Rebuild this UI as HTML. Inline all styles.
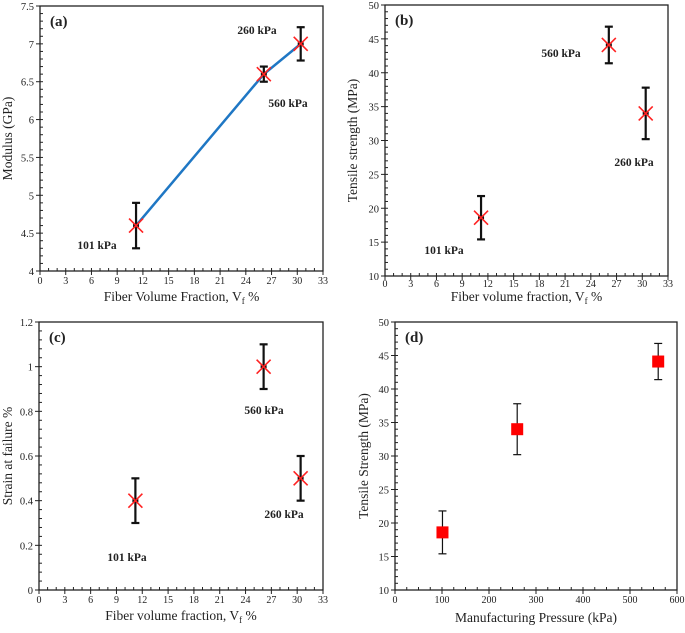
<!DOCTYPE html>
<html><head><meta charset="utf-8"><style>
html,body{margin:0;padding:0;background:#fff}
svg text{font-family:"Liberation Serif","DejaVu Serif",serif;fill:#222}
</style></head><body>
<svg id="fig" width="685" height="628" viewBox="0 0 685 628" xmlns="http://www.w3.org/2000/svg" font-family="Liberation Serif, serif"></svg>
<script>
// Panel (a) data
const aX = [11.2, 26.1, 30.4];
const aY = [4.6, 6.6, 7.0];
const aErr = [0.3, 0.1, 0.22];
const aLabels = ["101 kPa", "560 kPa", "260 kPa"];
// Panel (b) data
const bX = [11.2, 26.1, 30.4];
const bY = [18.6, 44.1, 34.0];
const bErr = [3.2, 2.7, 3.8];
// Panel (c) data
const cX = [11.2, 26.1, 30.4];
const cY = [0.4, 1.0, 0.5];
const cErr = [0.1, 0.1, 0.1];
// Panel (d) data
const dX = [101, 260, 560];
const dY = [18.6, 34.0, 44.1];
const dErr = [3.2, 3.8, 2.7];
// Tick labels
const vfTicks = [0,3,6,9,12,15,18,21,24,27,30,33];
const aYTicks = [4,4.5,5,5.5,6,6.5,7,7.5];
const bYTicks = [10,15,20,25,30,35,40,45,50];
const cYTicks = [0,0.2,0.4,0.6,0.8,1,1.2];
const dXTicks = [0,100,200,300,400,500,600];

const NS = "http://www.w3.org/2000/svg";
const svg = document.getElementById('fig');
function mk(tag, attrs, parent, name, txt){
  const e = document.createElementNS(NS, tag);
  for (const k in attrs) e.setAttribute(k, attrs[k]);
  
  
  if (txt !== undefined) e.textContent = txt;
  (parent || svg).appendChild(e);
  return e;
}
function panel(o){
  const g = mk('g', {}, svg, o.name);
  const sx = v => o.L + (v - o.xt[0]) / (o.xt[o.xt.length-1] - o.xt[0]) * (o.R - o.L);
  const sy = v => o.B - (v - o.yt[0]) / (o.yt[o.yt.length-1] - o.yt[0]) * (o.B - o.T);
  mk('rect', {x:o.L, y:o.T, width:o.R-o.L, height:o.B-o.T, fill:'none', stroke:'#222', 'stroke-width':1.3}, g, 'plot-frame');
  const xmin = o.xt[0], xmax = o.xt[o.xt.length-1];
  for (let i = 0; i <= o.xMinorN; i++){
    const v = xmin + (xmax - xmin) * i / o.xMinorN;
    mk('line', {x1:sx(v), x2:sx(v), y1:o.B, y2:o.B-3, stroke:'#222', 'stroke-width':1}, g, 'x-minor-tick');
  }
  const ymin = o.yt[0], ymax = o.yt[o.yt.length-1];
  for (let i = 0; i <= o.yMinorN; i++){
    const v = ymin + (ymax - ymin) * i / o.yMinorN;
    mk('line', {x1:o.L, x2:o.L+3, y1:sy(v), y2:sy(v), stroke:'#222', 'stroke-width':1}, g, 'y-minor-tick');
  }
  o.xt.forEach(v => {
    mk('line', {x1:sx(v), x2:sx(v), y1:o.B, y2:o.B+4, stroke:'#222'}, g, 'x-tick');
    mk('text', {x:sx(v), y:o.B+(o.tickDy||13), 'text-anchor':'middle', 'font-size':10, 'font-family':'Liberation Serif, serif'}, g, 'x-tick-label', String(v));
  });
  o.yt.forEach(v => {
    mk('line', {x1:o.L-4, x2:o.L, y1:sy(v), y2:sy(v), stroke:'#222'}, g, 'y-tick');
    mk('text', {x:o.L-6, y:sy(v)+4, 'text-anchor':'end', 'font-size':10.5, 'font-family':'Liberation Serif, serif'}, g, 'y-tick-label', String(v));
  });
  mk('text', {x:(o.L+o.R)/2, y:o.xTitleY, 'text-anchor':'middle', 'font-size':13.5, 'font-family':'Liberation Serif, serif'}, g, 'x-axis-title').innerHTML = o.xTitle;
  mk('text', {x:o.yTitleX, y:(o.T+o.B)/2, 'text-anchor':'middle', 'font-size':13.5, 'font-family':'Liberation Serif, serif', transform:`rotate(-90 ${o.yTitleX} ${(o.T+o.B)/2})`}, g, 'y-axis-title', o.yTitle);
  mk('text', {x:o.L+10, y:o.T+20, 'font-size':15, 'font-weight':'bold', 'font-family':'Liberation Serif, serif'}, g, 'panel-label', o.tag);
  if (o.line){
    mk('polyline', {points:o.X.map((x,i)=>sx(x)+','+sy(o.Y[i])).join(' '), fill:'none', stroke:'#1f77c4', 'stroke-width':2.5}, g, 'fit-line');
  }
  o.X.forEach((x,i) => {
    const px = sx(x), y1 = sy(o.Y[i]+o.E[i]), y2 = sy(o.Y[i]-o.E[i]);
    const sw = o.square ? 1.2 : 2.2;
    mk('line', {x1:px, x2:px, y1:y1, y2:y2, stroke:'#111', 'stroke-width':sw}, g, 'error-bar');
    mk('line', {x1:px-4, x2:px+4, y1:y1, y2:y1, stroke:'#111', 'stroke-width':sw}, g, 'error-cap');
    mk('line', {x1:px-4, x2:px+4, y1:y2, y2:y2, stroke:'#111', 'stroke-width':sw}, g, 'error-cap');
    const py = sy(o.Y[i]);
    if (o.square){
      mk('rect', {x:px-6, y:py-6, width:12, height:12, fill:'#f00'}, g, 'data-point');
    } else {
      mk('line', {x1:px-3, x2:px+3, y1:py, y2:py, stroke:'#111', 'stroke-width':3}, g, 'x-error-bar');
      mk('path', {d:`M${px-7},${py-7}L${px+7},${py+7}M${px-7},${py+7}L${px+7},${py-7}`, stroke:'#f22', 'stroke-width':1.6, fill:'none'}, g, 'data-point');
    }
  });
  (o.ann||[]).forEach(a => mk('text', {x:a[1], y:a[2], 'text-anchor':'middle', 'font-size':11.5, 'font-weight':'bold', 'font-family':'Liberation Serif, serif'}, g, 'point-annotation', a[0]));
}
const vfTitle = 'Fiber Volume Fraction, V<tspan font-size="9" dy="3">f</tspan><tspan dy="-3"> %</tspan>';
const vfTitle2 = 'Fiber volume fraction, V<tspan font-size="9" dy="3">f</tspan><tspan dy="-3"> %</tspan>';
panel({name:'panel-a', tag:'(a)', L:40, R:323, T:6, B:271, xt:vfTicks, yt:aYTicks, xMinorN:33, yMinorN:35,
  X:aX, Y:aY, E:aErr, line:true, xTitle:vfTitle, yTitle:'Modulus (GPa)', xTitleY:301, yTitleX:12,
  ann:[[aLabels[0],97,249],[aLabels[1],288,107],[aLabels[2],257,34]]});
panel({name:'panel-b', tag:'(b)', L:385, R:668, T:5, B:276, tickDy:11, xt:vfTicks, yt:bYTicks, xMinorN:33, yMinorN:40,
  X:bX, Y:bY, E:bErr, xTitle:vfTitle2, yTitle:'Tensile strength (MPa)', xTitleY:301, yTitleX:357,
  ann:[["101 kPa",444,254],["560 kPa",561,57],["260 kPa",634,166]]});
panel({name:'panel-c', tag:'(c)', L:39, R:323, T:322, B:590, xt:vfTicks, yt:cYTicks, xMinorN:33, yMinorN:30,
  X:cX, Y:cY, E:cErr, xTitle:vfTitle2, yTitle:'Strain at failure %', xTitleY:620, yTitleX:12,
  ann:[["101 kPa",127,561],["560 kPa",264,414],["260 kPa",284,518]]});
panel({name:'panel-d', tag:'(d)', L:395, R:677, T:322, B:590, xt:dXTicks, yt:bYTicks, xMinorN:24, yMinorN:40,
  X:dX, Y:dY, E:dErr, square:true, xTitle:'Manufacturing Pressure (kPa)', yTitle:'Tensile Strength (MPa)', xTitleY:622, yTitleX:368});
</script>
</body></html>
